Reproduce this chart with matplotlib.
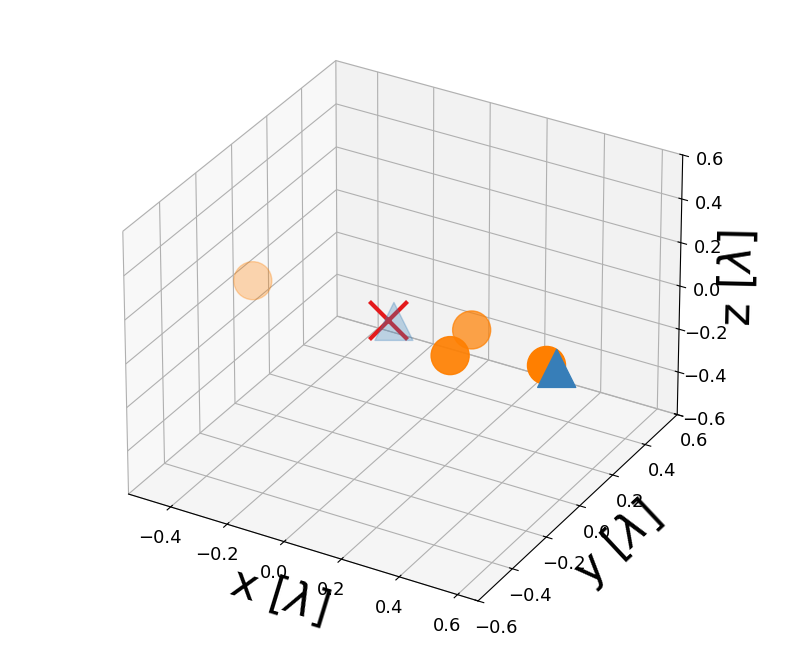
import numpy as np
import matplotlib
matplotlib.use("Agg")
import matplotlib.pyplot as plt

# circles (orange)
circle_x = [-0.48, 0.25, 0.27, 0.55]
circle_y = [0.0, 0.07, -0.09, 0.0]
circle_z = [0.0, 0.0, 0.0, 0.0]

# triangles (blue)
tri_x = [0.02, 0.585]
tri_y = [0.0, 0.0]
tri_z = [0.0, 0.0]

# cross (red)
cross_x = [0.0]
cross_y = [0.0]
cross_z = [0.0]

xlim = (-0.55, 0.67)
ylim = (-0.6, 0.6)
zlim = (-0.6, 0.6)
ticks = [-0.6, -0.4, -0.2, 0.0, 0.2, 0.4, 0.6]

fig = plt.figure(figsize=(7.93, 6.61), dpi=100)
ax = fig.add_axes([0.025, 0.0235, 0.951, 0.945], projection="3d")
ax.set_proj_type("persp", focal_length=2.2)
ax.set_box_aspect((4, 4.1, 3), zoom=1.01)

ax.scatter(circle_x, circle_y, circle_z, s=750, c="#ff7f00", marker="o")
ax.scatter(cross_x, cross_y, cross_z, s=750, c="#e41a1c", marker="x", linewidths=3)
ax.scatter(tri_x, tri_y, tri_z, s=750, c="#377eb8", marker="^")

ax.set_xlim(xlim)
ax.set_ylim(ylim)
ax.set_zlim(zlim)
ax.set_xticks([t for t in ticks if t >= xlim[0]])
ax.set_yticks(ticks)
ax.set_zticks(ticks)
ax.tick_params(labelsize=13)

ax.set_xlabel(r"x [$\lambda$]", fontsize=32)
ax.set_ylabel(r"y [$\lambda$]", fontsize=32)
ax.set_zlabel(r"z [$\lambda$]", fontsize=32)

plt.savefig("out.png", dpi=100)
